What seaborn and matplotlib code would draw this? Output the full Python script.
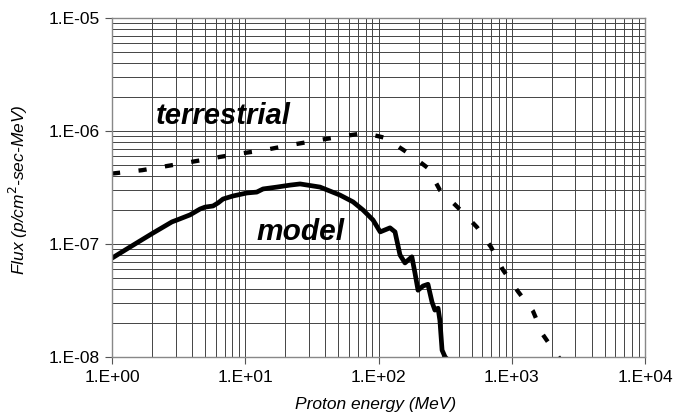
import numpy as np
import pandas as pd
import matplotlib
matplotlib.use("Agg")
import matplotlib.pyplot as plt
import seaborn as sns
from matplotlib.ticker import LogLocator, FuncFormatter, NullFormatter

# ---- data ----
terr_energy = [1.0, 1.68, 2.59, 3.85, 5.93, 9.1, 14.1, 21.7, 33.4, 51.4, 79, 112,
               166, 235, 289, 395, 548, 699, 859, 1114, 1443, 1717, 2187, 2400]
terr_flux = [4.2e-7, 4.5e-7, 4.9e-7, 5.3e-7, 5.8e-7, 6.3e-7, 6.8e-7, 7.5e-7, 8.2e-7,
             8.9e-7, 9.6e-7, 8.7e-7, 6.4e-7, 4.7e-7, 3.0e-7, 2.1e-7, 1.41e-7, 9.4e-8,
             5.9e-8, 3.8e-8, 2.55e-8, 1.57e-8, 1.04e-8, 9.0e-9]

model_energy = [1.0, 1.365, 2.03, 2.82, 3.07, 3.85, 4.58, 4.99, 5.73, 6.25, 6.81, 8.09,
                10.3, 12.2, 13.6, 17.3, 21.7, 25.8, 36.4, 51.4, 64.4, 76.5, 91, 103,
                122, 133, 145, 158, 178, 188, 198, 216, 235, 252, 265, 280, 289, 300,
                316, 330]
model_flux = [7.5e-8, 9.4e-8, 1.25e-7, 1.57e-7, 1.63e-7, 1.81e-7, 2.04e-7, 2.12e-7,
              2.17e-7, 2.31e-7, 2.5e-7, 2.66e-7, 2.83e-7, 2.88e-7, 3.07e-7, 3.19e-7,
              3.32e-7, 3.4e-7, 3.19e-7, 2.71e-7, 2.36e-7, 2.0e-7, 1.63e-7, 1.28e-7,
              1.39e-7, 1.28e-7, 8.0e-8, 6.8e-8, 7.7e-8, 5.5e-8, 3.9e-8, 4.25e-8,
              4.4e-8, 3.07e-8, 2.6e-8, 2.7e-8, 2.1e-8, 1.15e-8, 1.0e-8, 9.5e-9]

x_ticks = [1e0, 1e1, 1e2, 1e3, 1e4]
y_ticks = [1e-8, 1e-7, 1e-6, 1e-5]
x_label = "Proton energy (MeV)"
y_label = "Flux (p/cm$^2$-sec-MeV)"

terr_df = pd.DataFrame({"energy": terr_energy, "flux": terr_flux})
model_df = pd.DataFrame({"energy": model_energy, "flux": model_flux})

sns.set_theme(style="white")
plt.rcParams["font.family"] = ["Liberation Sans", "DejaVu Sans"]
plt.rcParams["text.color"] = "black"
plt.rcParams["axes.labelcolor"] = "black"
plt.rcParams["xtick.color"] = "black"
plt.rcParams["ytick.color"] = "black"

fig = plt.figure(figsize=(6.77, 4.12), dpi=100)
ax = fig.add_axes([112 / 677, 1 - 357 / 412, 533 / 677, 339 / 412])

ax.set_xscale("log")
ax.set_yscale("log")

sns.lineplot(data=model_df, x="energy", y="flux", ax=ax, color="black",
             linewidth=3.4, sort=False, estimator=None)
sns.lineplot(data=terr_df, x="energy", y="flux", ax=ax, color="black",
             linewidth=3.1, sort=False, estimator=None)
ax.lines[-1].set_dashes((1.9, 4.3))

ax.set_xlim(1e0, 1e4)
ax.set_ylim(1e-8, 1e-5)

ax.xaxis.set_major_locator(LogLocator(base=10, numticks=10))
ax.yaxis.set_major_locator(LogLocator(base=10, numticks=10))
ax.xaxis.set_minor_locator(LogLocator(base=10, subs=np.arange(2, 10), numticks=20))
ax.yaxis.set_minor_locator(LogLocator(base=10, subs=np.arange(2, 10), numticks=20))

def fmt(v, pos):
    e = int(round(np.log10(v)))
    sign = "+" if e >= 0 else "-"
    return f"1.E{sign}{abs(e):02d}"

ax.xaxis.set_major_formatter(FuncFormatter(fmt))
ax.yaxis.set_major_formatter(FuncFormatter(fmt))
ax.xaxis.set_minor_formatter(NullFormatter())
ax.yaxis.set_minor_formatter(NullFormatter())
ax.set_xticks(x_ticks)
ax.set_yticks(y_ticks)

ax.grid(True, which="both", color="#444444", linewidth=0.7)
ax.set_axisbelow(True)

ax.tick_params(axis="both", which="major", direction="out", length=5, width=0.8,
               color="#555555", labelsize=12.5, labelcolor="black",
               bottom=True, left=True, pad=4)
ax.tick_params(axis="both", which="minor", length=0)

for s in ax.spines.values():
    s.set_color("#888888")
    s.set_linewidth(1.0)

ax.set_xlabel(x_label, fontsize=12.5, style="italic", va="center", color="black")
ax.xaxis.set_label_coords(0.495, -48 / 339)
ax.set_ylabel(y_label, fontsize=12.5, style="italic", va="center", color="black")
ax.yaxis.set_label_coords(-0.176, 0.493)

ax.text(2.14, 1.36e-6, "terrestrial", fontsize=21, fontweight="bold",
        style="italic", ha="left", va="center", color="black")
ax.text(12.2, 1.28e-7, "model", fontsize=21.5, fontweight="bold",
        style="italic", ha="left", va="center", color="black")

fig.savefig("out.png", dpi=100)
